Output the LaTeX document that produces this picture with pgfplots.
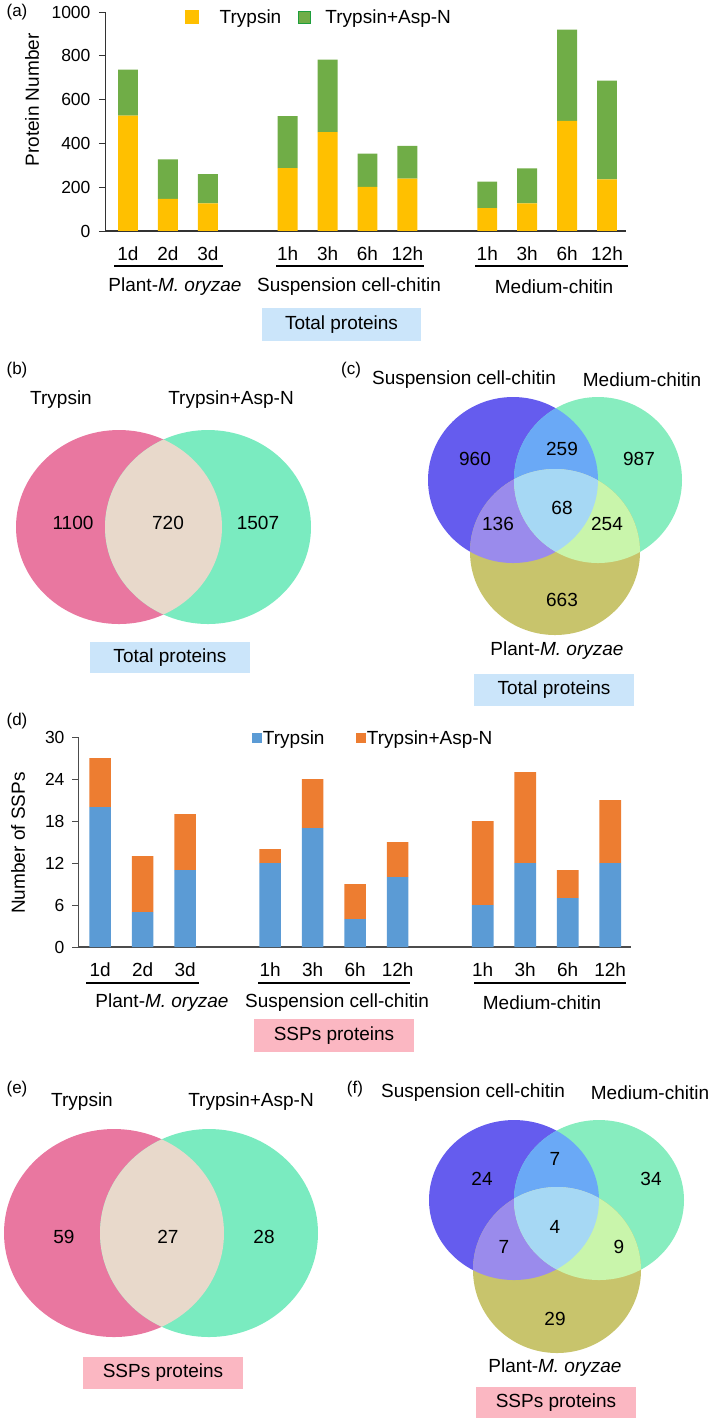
\documentclass[border=0pt]{standalone}
\usepackage{fontspec}
\setmainfont{Liberation Sans}
\usepackage{pgfplots}
\pgfplotsset{compat=1.18}
\definecolor{cY}{HTML}{FFC000}
\definecolor{cG}{HTML}{70AD47}
\definecolor{cGd}{HTML}{1E9E3C}
\definecolor{cB}{HTML}{5B9BD5}
\definecolor{cO}{HTML}{ED7D31}
\definecolor{vpink}{HTML}{E977A0}
\definecolor{vgreen}{HTML}{7AEBC0}
\definecolor{vbeige}{HTML}{E8D9CB}
\definecolor{vblue}{HTML}{655CEE}
\definecolor{vgreen2}{HTML}{87EDBF}
\definecolor{volive}{HTML}{C8C46C}
\definecolor{vbg}{HTML}{6AA9F6}
\definecolor{vbo}{HTML}{9A8BEC}
\definecolor{vgo}{HTML}{C9F5AB}
\definecolor{vall}{HTML}{A6D8F4}
\definecolor{boxblue}{HTML}{CBE5FA}
\definecolor{boxpink}{HTML}{FBB7C2}
\newcommand{\fs}{\fontsize{19}{22}\selectfont}
\newcommand{\ft}{\fontsize{17.5}{20}\selectfont}
\newcommand{\fl}{\fontsize{17}{20}\selectfont}
\begin{document}
\begin{tikzpicture}[font=\fs]
\path[use as bounding box] (0pt,0pt) rectangle (709pt,-1420pt);
% ---------- overlay axis for annotations and Venn diagrams ----------
\begin{axis}[at={(0pt,0pt)}, anchor=north west, scale only axis, width=709pt, height=1420pt,
  xmin=0, xmax=709, ymin=0, ymax=1420, y dir=reverse, hide axis, clip=false, enlargelimits=false]
\addplot[draw=none] coordinates {(0,0)};
% panel (a) annotations
\node[font=\fl] at (axis cs:17,12) {(a)};
\draw[line width=2pt] (axis cs:114,266) -- (axis cs:223,266);
\draw[line width=2pt] (axis cs:276,266) -- (axis cs:424,266);
\draw[line width=2pt] (axis cs:475,266) -- (axis cs:628,266);
\node at (axis cs:175,287) {Plant-\textit{M. oryzae}};
\node at (axis cs:349,287) {Suspension cell-chitin};
\node at (axis cs:554,287) {Medium-chitin};
\fill[boxblue] (axis cs:262,308) rectangle (axis cs:421,341);
\node at (axis cs:341.5,324.5) {Total proteins};
% panel (b)
\node[font=\fl] at (axis cs:17,370) {(b)};
\node at (axis cs:61,400) {Trypsin};
\node at (axis cs:231,400) {Trypsin+Asp-N};
\fill[vpink] (axis cs:119,527) ellipse [x radius=103pt, y radius=97pt];
\fill[vgreen] (axis cs:208,527) ellipse [x radius=103pt, y radius=97pt];
\begin{scope}
\clip (axis cs:119,527) ellipse [x radius=103pt, y radius=97pt];
\fill[vbeige] (axis cs:208,527) ellipse [x radius=103pt, y radius=97pt];
\end{scope}
\node at (axis cs:73,523) {1100};
\node at (axis cs:168,523) {720};
\node at (axis cs:258,523) {1507};
\fill[boxblue] (axis cs:90,642) rectangle (axis cs:250,673);
\node at (axis cs:170,657.5) {Total proteins};
% panel (c)
\node[font=\fl] at (axis cs:351,370) {(c)};
\node at (axis cs:464,380) {Suspension cell-chitin};
\node at (axis cs:642,380) {Medium-chitin};
\fill[vblue] (axis cs:513,480) ellipse [x radius=85pt, y radius=83pt];
\fill[vgreen2] (axis cs:598,480) ellipse [x radius=84pt, y radius=83pt];
\fill[volive] (axis cs:555,552) ellipse [x radius=85pt, y radius=83pt];
\begin{scope}
\clip (axis cs:513,480) ellipse [x radius=85pt, y radius=83pt];
\fill[vbg] (axis cs:598,480) ellipse [x radius=84pt, y radius=83pt];
\fill[vbo] (axis cs:555,552) ellipse [x radius=85pt, y radius=83pt];
\end{scope}
\begin{scope}
\clip (axis cs:598,480) ellipse [x radius=84pt, y radius=83pt];
\fill[vgo] (axis cs:555,552) ellipse [x radius=85pt, y radius=83pt];
\end{scope}
\begin{scope}
\clip (axis cs:513,480) ellipse [x radius=85pt, y radius=83pt];
\clip (axis cs:598,480) ellipse [x radius=84pt, y radius=83pt];
\fill[vall] (axis cs:555,552) ellipse [x radius=85pt, y radius=83pt];
\end{scope}
\node at (axis cs:475,459) {960};
\node at (axis cs:562,449) {259};
\node at (axis cs:639,459) {987};
\node at (axis cs:562,508) {68};
\node at (axis cs:498,524) {136};
\node at (axis cs:607,524) {254};
\node at (axis cs:562,600) {663};
\node at (axis cs:557,651) {Plant-\textit{M. oryzae}};
\fill[boxblue] (axis cs:474,674) rectangle (axis cs:634,706);
\node at (axis cs:554,690) {Total proteins};
% panel (d) annotations
\node[font=\fl] at (axis cs:17,721) {(d)};
\draw[line width=2pt] (axis cs:86,983) -- (axis cs:199,983);
\draw[line width=2pt] (axis cs:258,983) -- (axis cs:410,983);
\draw[line width=2pt] (axis cs:474,983) -- (axis cs:626,983);
\node at (axis cs:162,1003) {Plant-\textit{M. oryzae}};
\node at (axis cs:337,1003) {Suspension cell-chitin};
\node at (axis cs:542,1003) {Medium-chitin};
\fill[boxpink] (axis cs:254,1019) rectangle (axis cs:414,1052);
\node at (axis cs:334,1035.5) {SSPs proteins};
% panel (e)
\node[font=\fl] at (axis cs:17,1089) {(e)};
\node at (axis cs:82,1102) {Trypsin};
\node at (axis cs:251,1102) {Trypsin+Asp-N};
\fill[vpink] (axis cs:114,1233) ellipse [x radius=110pt, y radius=104pt];
\fill[vgreen] (axis cs:209,1233) ellipse [x radius=109pt, y radius=104pt];
\begin{scope}
\clip (axis cs:114,1233) ellipse [x radius=110pt, y radius=104pt];
\fill[vbeige] (axis cs:209,1233) ellipse [x radius=109pt, y radius=104pt];
\end{scope}
\node at (axis cs:64,1237) {59};
\node at (axis cs:168,1237) {27};
\node at (axis cs:264,1237) {28};
\fill[boxpink] (axis cs:83,1357) rectangle (axis cs:243,1389);
\node at (axis cs:163,1373) {SSPs proteins};
% panel (f)
\node[font=\fl] at (axis cs:355,1089) {(f)};
\node at (axis cs:473,1093) {Suspension cell-chitin};
\node at (axis cs:650,1093) {Medium-chitin};
\fill[vblue] (axis cs:514,1200) ellipse [x radius=85pt, y radius=80pt];
\fill[vgreen2] (axis cs:599,1200) ellipse [x radius=85pt, y radius=80pt];
\fill[volive] (axis cs:557,1270) ellipse [x radius=84pt, y radius=83pt];
\begin{scope}
\clip (axis cs:514,1200) ellipse [x radius=85pt, y radius=80pt];
\fill[vbg] (axis cs:599,1200) ellipse [x radius=85pt, y radius=80pt];
\fill[vbo] (axis cs:557,1270) ellipse [x radius=84pt, y radius=83pt];
\end{scope}
\begin{scope}
\clip (axis cs:599,1200) ellipse [x radius=85pt, y radius=80pt];
\fill[vgo] (axis cs:557,1270) ellipse [x radius=84pt, y radius=83pt];
\end{scope}
\begin{scope}
\clip (axis cs:514,1200) ellipse [x radius=85pt, y radius=80pt];
\clip (axis cs:599,1200) ellipse [x radius=85pt, y radius=80pt];
\fill[vall] (axis cs:557,1270) ellipse [x radius=84pt, y radius=83pt];
\end{scope}
\node at (axis cs:482,1179) {24};
\node at (axis cs:555,1159) {7};
\node at (axis cs:651,1179) {34};
\node at (axis cs:555,1227) {4};
\node at (axis cs:504,1247) {7};
\node at (axis cs:619,1247) {9};
\node at (axis cs:555,1319) {29};
\node at (axis cs:555,1368) {Plant-\textit{M. oryzae}};
\fill[boxpink] (axis cs:476,1387) rectangle (axis cs:636,1418);
\node at (axis cs:556,1402.5) {SSPs proteins};
\end{axis}
% ---------- panel (a) bar chart ----------
\begin{axis}[at={(105pt,-231pt)}, anchor=south west, scale only axis, width=521pt, height=219pt,
  font=\fs,
  xmin=-0.576, xmax=12.476, ymin=0, ymax=1000,
  ybar stacked, bar width=0.5,
  axis x line*=bottom, axis y line*=left,
  x axis line style={line width=2pt, color=black!80},
  y axis line style={line width=0.8pt, color=black!80},
  xtick={0,1,2,4,5,6,7,9,10,11,12},
  xticklabels={1d,2d,3d,1h,3h,6h,12h,1h,3h,6h,12h},
  x tick style={draw=none},
  xticklabel style={yshift=-6pt, font=\fs},
  yticklabel style={font=\ft, xshift=-5pt},
  ytick={0,200,...,1000},
  y tick style={line width=0.8pt, color=black!80},
  tick align=outside, major tick length=6pt,
  ylabel={Protein Number},
  every axis y label/.style={at={(axis description cs:-0.14,0.598)}, rotate=90, anchor=center},
  /pgf/number format/assume math mode=true,
  /pgf/number format/set thousands separator={},
  legend style={at={(axis description cs:0.148,0.977)}, anchor=west, draw=none, fill=none,
    nodes={inner sep=2pt}, /tikz/every even column/.append style={column sep=15pt}},
  legend columns=2,
  legend entries={Trypsin, Trypsin+Asp-N},
]
\addlegendimage{legend image code/.code={\fill[cY] (0pt,-6.5pt) rectangle (13pt,6.5pt); \path (32pt,0pt);}}
\addlegendimage{legend image code/.code={\filldraw[fill=cG, draw=cGd, line width=1pt] (0.5pt,-6pt) rectangle (12.5pt,6pt); \path (25pt,0pt);}}
\addplot[fill=cY, draw=none] coordinates {(0,527) (1,147) (2,126) (4,287) (5,451) (6,202) (7,239) (9,105) (10,126) (11,503) (12,236)};
\addplot[fill=cG, draw=none] coordinates {(0,210) (1,180) (2,134) (4,237) (5,332) (6,151) (7,150) (9,121) (10,160) (11,416) (12,451)};
\end{axis}
% ---------- panel (d) bar chart ----------
\begin{axis}[at={(78pt,-947pt)}, anchor=south west, scale only axis, width=553pt, height=210pt,
  font=\fs,
  xmin=-0.52, xmax=12.49, ymin=0, ymax=30,
  ybar stacked, bar width=0.51,
  axis x line*=bottom, axis y line*=left,
  x axis line style={line width=2pt, color=black!70},
  y axis line style={line width=0.8pt, color=black!70},
  xtick={0,1,2,4,5,6,7,9,10,11,12},
  xticklabels={1d,2d,3d,1h,3h,6h,12h,1h,3h,6h,12h},
  x tick style={draw=none},
  xticklabel style={yshift=-6pt, font=\fs},
  yticklabel style={font=\ft, xshift=-4pt},
  ytick={0,6,...,30},
  y tick style={line width=0.8pt, color=black!70},
  tick align=outside, major tick length=6pt,
  ylabel={Number of SSPs},
  every axis y label/.style={at={(axis description cs:-0.1085,0.495)}, rotate=90, anchor=center},
  /pgf/number format/assume math mode=true,
  legend style={at={(axis description cs:0.309,0.995)}, anchor=west, draw=none, fill=none,
    nodes={inner sep=1.5pt}, /tikz/every even column/.append style={column sep=30pt}},
  legend columns=2,
  legend entries={Trypsin, Trypsin+Asp-N},
]
\addlegendimage{legend image code/.code={\fill[cB] (0pt,-4.5pt) rectangle (9pt,4.5pt);}}
\addlegendimage{legend image code/.code={\fill[cO] (0pt,-4.5pt) rectangle (9pt,4.5pt);}}
\addplot[fill=cB, draw=none] coordinates {(0,20) (1,5) (2,11) (4,12) (5,17) (6,4) (7,10) (9,6) (10,12) (11,7) (12,12)};
\addplot[fill=cO, draw=none] coordinates {(0,7) (1,8) (2,8) (4,2) (5,7) (6,5) (7,5) (9,12) (10,13) (11,4) (12,9)};
\end{axis}
\end{tikzpicture}
\end{document}
